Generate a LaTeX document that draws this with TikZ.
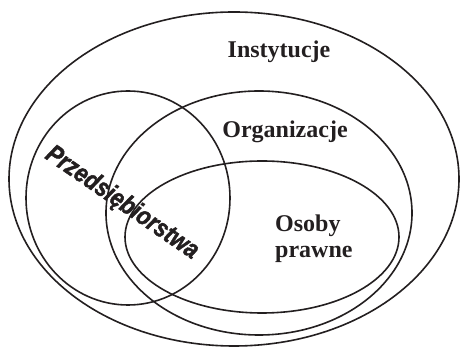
\documentclass[tikz,border=0pt]{standalone}
\usepackage{fontspec}
\setmainfont{Liberation Serif}
\newfontfamily\headfont[BoldItalicFeatures={FakeBold=1.8}]{Liberation Sans}
\usetikzlibrary{shapes.geometric}
\definecolor{inkc}{RGB}{35,31,32}
\tikzset{
  set/.style={
    ellipse, draw=inkc, line width=1.6pt, inner sep=0pt, fill=none
  },
  setname/.style={font=\fontsize{24}{27}\selectfont\bfseries, text=inkc, inner sep=0pt},
  slanted/.style={font=\headfont\fontsize{26}{28}\selectfont\bfseries\itshape,
                  text=inkc, inner sep=0pt, rotate=-34.5, xscale=0.84},
}

\begin{document}
\begin{tikzpicture}[x=1pt, y=1pt]
  \useasboundingbox (0,0) rectangle (460,347);

  % the four sets
  \node[set, minimum width=450pt, minimum height=334pt] (inst) at (234,168) {};
  \node[set, minimum width=204pt, minimum height=214pt] (firm) at (128,149) {};
  \node[set, minimum width=306pt, minimum height=244pt] (org) at (259,134) {};
  \node[set, minimum width=274pt, minimum height=152pt] (legal) at (262,110) {};

  % names of the sets
  \node[setname, anchor=base] (instname) at (279,289) {Instytucje};
  \node[setname, anchor=base] (orgname) at (285,209) {Organizacje};
  \node[setname, anchor=base west] (legalname) at (275,115) {Osoby};
  \node[setname, anchor=base west] (legalname2) at (275,89) {prawne};
  \node[slanted] (firmname) at (122,144) {Przedsiębiorstwa};

\end{tikzpicture}
\end{document}
